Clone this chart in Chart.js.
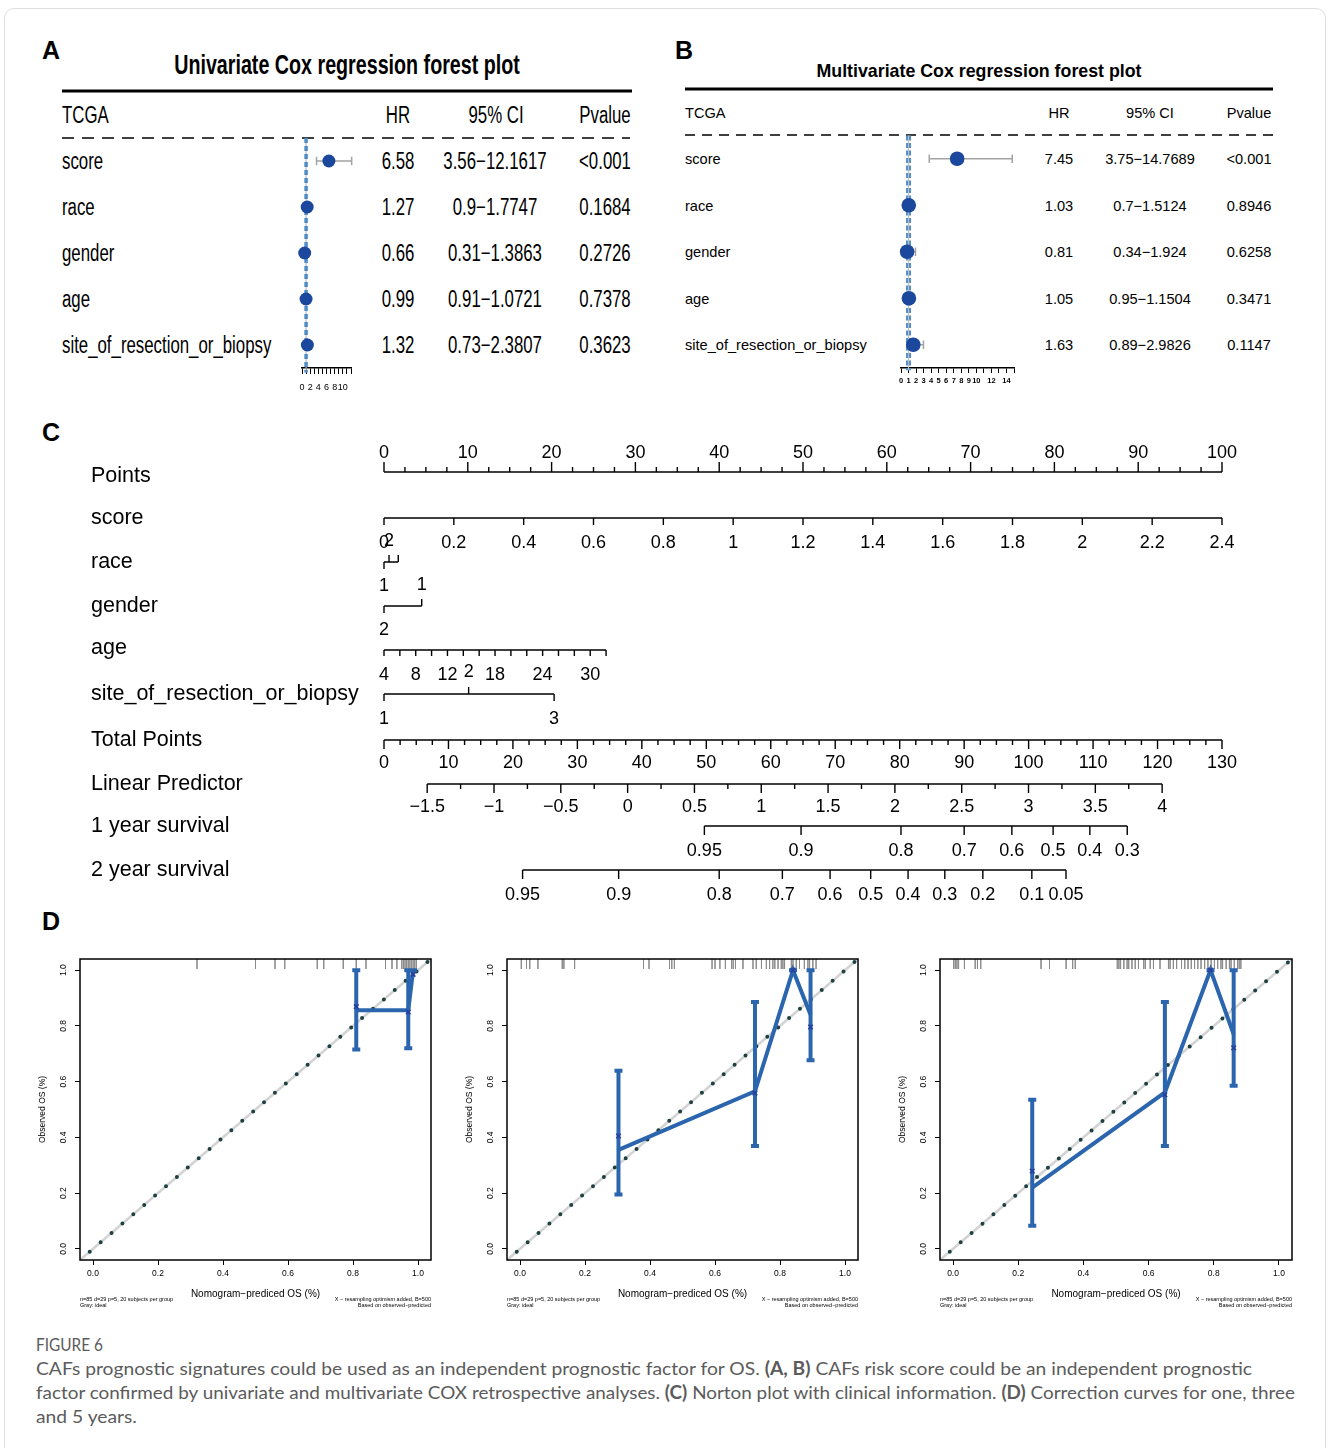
<!DOCTYPE html>
<html>
<head>
<meta charset="utf-8">
<script src="https://cdn.jsdelivr.net/npm/chart.js@4.4.1/dist/chart.umd.min.js"></script>
<style>
html,body{margin:0;padding:0;background:#fff;}
#page{position:relative;width:1328px;height:1448px;overflow:hidden;background:#fff;color:#000;font-family:"Liberation Sans",Arial,sans-serif;}
.abs{position:absolute;white-space:nowrap;line-height:1.15;}
.frame{position:absolute;left:4px;top:8px;width:1320px;height:1470px;border:1px solid #dedede;border-radius:10px;}
canvas{position:absolute;}
svg{position:absolute;left:0;top:0;}
.cap{position:absolute;left:36px;font-family:Lato,"Open Sans",sans-serif;color:#5b5b5b;font-size:18px;line-height:24px;white-space:nowrap;transform-origin:left top;}
.capline{display:block;width:max-content;transform-origin:left top;}
</style>
</head>
<body>
<div id="page">
<div class="frame"></div>
<svg width="1328" height="420">
 <line x1="62" y1="91" x2="632" y2="91" stroke="#000" stroke-width="3"/>
 <line x1="62" y1="138" x2="630" y2="138" stroke="#000" stroke-width="1.6" stroke-dasharray="12 8"/>
 <line x1="685" y1="89" x2="1273" y2="89" stroke="#000" stroke-width="3"/>
 <line x1="685" y1="135" x2="1273" y2="135" stroke="#000" stroke-width="1.6" stroke-dasharray="10 7"/>
</svg>
<canvas id="forestA" width="90" height="262" style="left:282px;top:128px"></canvas>
<canvas id="forestB" width="160" height="265" style="left:880px;top:125px"></canvas>
<canvas id="nomo" width="1180" height="480" style="left:80px;top:420px"></canvas>
<canvas id="cal1" width="410" height="362" style="left:30px;top:950px"></canvas>
<canvas id="cal2" width="410" height="362" style="left:457px;top:950px"></canvas>
<canvas id="cal3" width="411" height="362" style="left:890px;top:950px"></canvas>
<div class="cap" id="capHead" style="top:1332px;">FIGURE 6</div>
<div class="cap" style="top:1356px;">
<span class="capline" data-w="1216">CAFs prognostic signatures could be used as an independent prognostic factor for OS. <b>(A, B)</b> CAFs risk score could be an independent prognostic</span>
<span class="capline" data-w="1259">factor confirmed by univariate and multivariate COX retrospective analyses. <b>(C)</b> Norton plot with clinical information. <b>(D)</b> Correction curves for one, three</span>
<span class="capline" data-w="100">and 5 years.</span>
</div>
</div>
<script>
// ---------------- DATA ----------------
// Panel A: univariate Cox
const uniVars  = ['score','race','gender','age','site_of_resection_or_biopsy'];
const uniHR    = [6.58, 1.27, 0.66, 0.99, 1.32];
const uniLow   = [3.56, 0.9, 0.31, 0.91, 0.73];
const uniHigh  = [12.1617, 1.7747, 1.3863, 1.0721, 2.3807];
const uniP     = ['<0.001','0.1684','0.2726','0.7378','0.3623'];
const uniAxisLabels = [0,2,4,6,8,10];
// Panel B: multivariate Cox
const multiVars = ['score','race','gender','age','site_of_resection_or_biopsy'];
const multiHR   = [7.45, 1.03, 0.81, 1.05, 1.63];
const multiLow  = [3.75, 0.7, 0.34, 0.95, 0.89];
const multiHigh = [14.7689, 1.5124, 1.924, 1.1504, 2.9826];
const multiP    = ['<0.001','0.8946','0.6258','0.3471','0.1147'];
const multiAxisLabels = [0,1,2,3,4,5,6,7,8,9,10,12,14];
// Panel C: nomogram
const nomoRows = ['Points','score','race','gender','age','site_of_resection_or_biopsy','Total Points','Linear Predictor','1 year survival','2 year survival'];
const pointsValues = [0,10,20,30,40,50,60,70,80,90,100];
const scoreValues = [0,0.2,0.4,0.6,0.8,1,1.2,1.4,1.6,1.8,2,2.2,2.4];
const scoreLabels = ['0','0.2','0.4','0.6','0.8','1','1.2','1.4','1.6','1.8','2','2.2','2.4'];
const raceLevels = ['1','2',''];
const racePoints = [0, 0.6, 1.7];
const raceSide   = [1, -1, -1];
const genderLevels = ['2','1'];
const genderPoints = [0, 4.5];
const genderSide   = [1, -1];
const ageTickValues = [4,6,8,10,12,14,16,18,20,22,24,26,28,30,32];
const ageLabelValues = [4,8,12,18,24,30];
const siteLevels = ['1','2','3'];
const sitePoints = [0, 10.1, 20.3];
const siteSide   = [1, -1, 1];
const totalValues = [0,10,20,30,40,50,60,70,80,90,100,110,120,130];
const lpValues = [-1.5,-1,-0.5,0,0.5,1,1.5,2,2.5,3,3.5,4];
const lpLabels = ['\u22121.5','\u22121','\u22120.5','0','0.5','1','1.5','2','2.5','3','3.5','4'];
const surv1Labels = ['0.95','0.9','0.8','0.7','0.6','0.5','0.4','0.3'];
const surv1Total  = [49.7, 64.7, 80.2, 90.0, 97.4, 103.8, 109.5, 115.3];
const surv2Labels = ['0.95','0.9','0.8','0.7','0.6','0.5','0.4','0.3','0.2','0.1','0.05'];
const surv2Total  = [21.5, 36.4, 52.0, 61.8, 69.2, 75.5, 81.3, 87.0, 92.9, 100.5, 105.8];
// Panel D: calibration (1, 3, 5 years)
const cal1Pred = [0.81, 0.97, 0.985];
const cal1Obs  = [0.856, 0.856, 1.0];
const cal1Lo   = [0.715, 0.72, 1.0];
const cal1Hi   = [1.0, 1.0, 1.0];
const cal1Corr = [0.869, 0.85, 0.985];
const cal1Rug  = [0.32,0.50,0.56,0.59,0.69,0.71,0.77,0.81,0.84,0.90,0.92,0.935,0.95,0.955,0.96,0.965,0.97,0.975,0.98,0.985,0.99,0.995];
const cal2Pred = [0.303, 0.723, 0.84, 0.894];
const cal2Obs  = [0.355, 0.565, 1.0, 0.84];
const cal2Lo   = [0.195, 0.369, 1.0, 0.677];
const cal2Hi   = [0.639, 0.886, 1.0, 1.0];
const cal2Corr = [0.405, 0.559, 1.0, 0.796];
const cal2Rug  = [0.004,0.02,0.03,0.055,0.13,0.135,0.168,0.38,0.397,0.46,0.467,0.475,0.591,0.6,0.615,0.632,0.651,0.656,0.663,0.686,0.717,0.727,0.743,0.758,0.768,0.778,0.784,0.794,0.804,0.809,0.814,0.835,0.84,0.85,0.86,0.875,0.886,0.891,0.901,0.911];
const cal3Pred = [0.243, 0.65, 0.79, 0.861];
const cal3Obs  = [0.22, 0.561, 1.0, 0.77];
const cal3Lo   = [0.083, 0.369, 1.0, 0.585];
const cal3Hi   = [0.535, 0.886, 1.0, 1.0];
const cal3Corr = [0.279, 0.553, 1.0, 0.721];
const cal3Rug  = [0.002,0.007,0.012,0.017,0.035,0.068,0.075,0.085,0.27,0.296,0.347,0.367,0.375,0.504,0.509,0.514,0.524,0.534,0.539,0.549,0.559,0.569,0.585,0.59,0.605,0.615,0.635,0.661,0.666,0.676,0.686,0.701,0.711,0.721,0.731,0.741,0.751,0.761,0.772,0.782,0.792,0.802,0.812,0.822,0.827,0.838,0.848,0.853,0.863,0.873,0.878,0.883];

// ---------------- LAYOUT (pixel rows of nomogram axes) ----------------
const NOMO_ROW_Y = [472, 518, 562, 606, 650, 694, 740, 784, 826, 870];
const NOMO_LABEL_DY = [4, 0, 0, 0, -2, 0, 0, 0, 0, 0];

// ---------------- HELPERS ----------------
const FAM = '"Liberation Sans", Arial, sans-serif';
const page = document.getElementById('page');
function hasFont(name){
  const c=document.createElement('canvas').getContext('2d');
  c.font='40px monospace'; const w1=c.measureText('site_of_resection_or_biopsy').width;
  c.font='40px "'+name+'", monospace'; const w2=c.measureText('site_of_resection_or_biopsy').width;
  return Math.abs(w1-w2)>1;
}
const HAS_NARROW = hasFont('Liberation Sans Narrow');
function txt(x,y,text,o){
  o=o||{};
  const d=document.createElement('div'); d.className='abs';
  d.textContent=text;
  d.style.left=x+'px'; d.style.top=y+'px';
  d.style.fontSize=(o.size||14)+'px';
  if(o.bold) d.style.fontWeight='bold';
  let fam=FAM, sx=1, sy=o.sy||1;
  if(o.narrow){ if(HAS_NARROW) fam='"Liberation Sans Narrow", "Liberation Sans", sans-serif'; else sx=0.82; }
  d.style.fontFamily=fam;
  const a=o.align||'l';
  const tx=a==='c'?'-50%':a==='r'?'-100%':'0';
  d.style.transformOrigin=a==='c'?'center center':a==='r'?'right center':'left center';
  d.style.transform='translate('+tx+',-50%) scale('+sx+','+sy+')';
  page.appendChild(d);
}
const ciText=(l,h)=>l+'\u2212'+h;

// ---------------- TEXT: panels A and B ----------------
txt(42,50,'A',{size:25,bold:true});
txt(675,50,'B',{size:25,bold:true});
txt(42,432,'C',{size:25,bold:true});
txt(42,921,'D',{size:25,bold:true});

const SY_A = 1.13;
txt(347,65,'Univariate Cox regression forest plot',{size:24,bold:true,narrow:true,align:'c',sy:SY_A});
txt(62,115,'TCGA',{size:20.5,narrow:true,sy:SY_A});
txt(398,115,'HR',{size:20.5,narrow:true,align:'c',sy:SY_A});
txt(496,115,'95% CI',{size:20.5,narrow:true,align:'c',sy:SY_A});
txt(605,115,'Pvalue',{size:20.5,narrow:true,align:'c',sy:SY_A});
uniVars.forEach((v,i)=>{
  const y=161+46*i;
  txt(62,y,v,{size:20.5,narrow:true,sy:SY_A});
  txt(398,y,String(uniHR[i]),{size:20.5,narrow:true,align:'c',sy:SY_A});
  txt(495,y,ciText(uniLow[i],uniHigh[i]),{size:20.5,narrow:true,align:'c',sy:SY_A});
  txt(605,y,uniP[i],{size:20.5,narrow:true,align:'c',sy:SY_A});
});

txt(979,71,'Multivariate Cox regression forest plot',{size:17.8,bold:true,align:'c',sy:1.08});
txt(685,113,'TCGA',{size:14.6});
txt(1059,113,'HR',{size:14.6,align:'c'});
txt(1150,113,'95% CI',{size:14.6,align:'c'});
txt(1249,113,'Pvalue',{size:14.6,align:'c'});
multiVars.forEach((v,i)=>{
  const y=159+46.5*i;
  txt(685,y,v,{size:14.6});
  txt(1059,y,String(multiHR[i]),{size:14.6,align:'c'});
  txt(1150,y,ciText(multiLow[i],multiHigh[i]),{size:14.6,align:'c'});
  txt(1249,y,multiP[i],{size:14.6,align:'c'});
});

// caption width fitting (per line)
(function(){
  const lines=document.querySelectorAll('.capline');
  let f0=1;
  lines.forEach((el,i)=>{
    const w=el.getBoundingClientRect().width;
    let f=(+el.dataset.w)/w;
    if(i===0) f0=f;
    if(i===lines.length-1) f=f0;
    el.style.transform='scaleX('+f+')';
  });
  const h=document.getElementById('capHead');
  const wh=h.getBoundingClientRect().width;
  h.style.transform='scaleX('+(67/wh)+')';
})();

// ---------------- FOREST CHARTS ----------------
function makeForest(id, hr, lo, hi, cfg){
  const dots=hr.map((v,i)=>({x:v,y:i+1}));
  const ci=[];
  hr.forEach((v,i)=>{
    const r=i+1,c=cfg.capH;
    ci.push({x:lo[i],y:r},{x:hi[i],y:r},{x:hi[i],y:null},
            {x:lo[i],y:r-c},{x:lo[i],y:r+c},{x:lo[i],y:null},
            {x:hi[i],y:r-c},{x:hi[i],y:r+c},{x:hi[i],y:null});
  });
  const ref=[{x:1,y:0.5},{x:1,y:cfg.refEnd}];
  return new Chart(document.getElementById(id),{
    type:'line',
    data:{datasets:[
      {data:dots,showLine:false,pointRadius:cfg.dotR,pointBackgroundColor:'#1b479d',pointBorderWidth:0,order:0,clip:false},
      {data:ci,borderColor:'#a3a3a3',borderWidth:1.5,pointRadius:0,order:1,clip:false,spanGaps:false},
      {data:ref,borderColor:'#bdbdbd',borderWidth:1.2,pointRadius:0,order:cfg.grayOrder,clip:false},
      {data:ref,borderColor:'#4f8dc9',borderWidth:cfg.refW,borderDash:cfg.dash,pointRadius:0,order:2,clip:false}
    ]},
    options:{
      responsive:false,animation:false,events:[],
      layout:{padding:cfg.pad},
      plugins:{legend:{display:false},tooltip:{enabled:false}},
      scales:{
        x:{type:'linear',min:0,max:cfg.xmax,position:'bottom',
           afterFit:s=>{s.height=22;},
           border:{display:true,color:'#000',width:1.4},
           grid:{display:true,drawOnChartArea:false,drawTicks:true,tickLength:cfg.tickLen,color:'#000',lineWidth:1},
           ticks:{stepSize:1,autoSkip:false,maxRotation:0,minRotation:0,padding:cfg.tickPad,color:'#000',
                  font:{size:cfg.tickFont,family:FAM,weight:cfg.tickWeight},
                  callback:v=>cfg.labels.includes(v)?String(v):''}},
        y:{type:'linear',min:0.5,max:5.5,reverse:true,display:false}
      }
    }
  });
}
makeForest('forestA',uniHR,uniLow,uniHigh,{xmax:12,labels:uniAxisLabels,pad:{left:20,right:21,top:10,bottom:0},
  capH:0.09,dotR:6.5,refW:3.5,dash:[5,3],grayOrder:3,refEnd:5.6,tickLen:6,tickPad:8,tickFont:9,tickWeight:'normal'});
makeForest('forestB',multiHR,multiLow,multiHigh,{xmax:15,labels:multiAxisLabels,pad:{left:21,right:26,top:10.5,bottom:0},
  capH:0.09,dotR:7.3,refW:5,dash:[5,2.5],grayOrder:1.5,refEnd:5.55,tickLen:5,tickPad:3.5,tickFont:7.5,tickWeight:'bold'});

// ---------------- NOMOGRAM ----------------
const scoreToPts=s=>s/scoreValues[scoreValues.length-1]*100;
const ageToPts=a=>(a-4)*(26.5/28);
const totalToPts=t=>t*100/130;
const lpToTotal=lp=>6.7+(lp+1.5)*20.73;
const nomoSets=[], nomoText=[];
function addAxis(r,x0,x1,ticks,labels){
  const row=NOMO_ROW_Y[r];
  const d=[{x:x0,y:row},{x:x1,y:row},{x:x1,y:null}];
  ticks.forEach(t=>d.push({x:t.x,y:row},{x:t.x,y:row+t.dir*t.len},{x:t.x,y:null}));
  nomoSets.push({data:d,borderColor:'#000',borderWidth:1.4,pointRadius:0,clip:false,spanGaps:false});
  labels.forEach(l=>nomoText.push({x:l.x,row:row,text:l.text,dy:l.dy}));
}
// Points
(function(){
  const t=[];
  for(let v=0;v<=100;v+=2.5) t.push({x:v,dir:-1,len:(v%10===0)?10:5});
  addAxis(0,0,100,t,pointsValues.map(v=>({x:v,text:String(v),dy:-21})));
})();
// score
addAxis(1,0,100,scoreValues.map(v=>({x:scoreToPts(v),dir:1,len:7})),
  scoreValues.map((v,i)=>({x:scoreToPts(v),text:scoreLabels[i],dy:23})));
// race
addAxis(2,racePoints[0],racePoints[racePoints.length-1],racePoints.map((p,i)=>({x:p,dir:raceSide[i],len:7})),
  raceLevels.map((s,i)=>({x:racePoints[i],text:s,dy:raceSide[i]>0?22:-23})));
// gender
addAxis(3,genderPoints[0],genderPoints[genderPoints.length-1],genderPoints.map((p,i)=>({x:p,dir:genderSide[i],len:7})),
  genderLevels.map((s,i)=>({x:genderPoints[i],text:s,dy:genderSide[i]>0?22:-23})));
// age
addAxis(4,ageToPts(ageTickValues[0]),ageToPts(ageTickValues[ageTickValues.length-1]),
  ageTickValues.map(a=>({x:ageToPts(a),dir:1,len:6})),
  ageLabelValues.map(a=>({x:ageToPts(a),text:String(a),dy:23})));
// site
addAxis(5,sitePoints[0],sitePoints[sitePoints.length-1],sitePoints.map((p,i)=>({x:p,dir:siteSide[i],len:7})),
  siteLevels.map((s,i)=>({x:sitePoints[i],text:s,dy:siteSide[i]>0?23:-24})));
// Total Points
(function(){
  const t=[];
  for(let v=0;v<=130;v+=2.5) t.push({x:totalToPts(v),dir:1,len:(v%10===0)?9:5});
  addAxis(6,totalToPts(0),totalToPts(130),t,totalValues.map(v=>({x:totalToPts(v),text:String(v),dy:21})));
})();
// Linear predictor
(function(){
  const t=[];
  for(let v=-1.5;v<=4.001;v+=0.25) t.push({x:totalToPts(lpToTotal(v)),dir:1,len:(Math.abs(v*2-Math.round(v*2))<1e-6)?9:5});
  addAxis(7,totalToPts(lpToTotal(-1.5)),totalToPts(lpToTotal(4)),t,
    lpValues.map((v,i)=>({x:totalToPts(lpToTotal(v)),text:lpLabels[i],dy:21})));
})();
// survival
addAxis(8,totalToPts(surv1Total[0]),totalToPts(surv1Total[surv1Total.length-1]),
  surv1Total.map(t=>({x:totalToPts(t),dir:1,len:9})),
  surv1Labels.map((s,i)=>({x:totalToPts(surv1Total[i]),text:s,dy:23})));
addAxis(9,totalToPts(surv2Total[0]),totalToPts(surv2Total[surv2Total.length-1]),
  surv2Total.map(t=>({x:totalToPts(t),dir:1,len:9})),
  surv2Labels.map((s,i)=>({x:totalToPts(surv2Total[i]),text:s,dy:23})));

const nomoLabelPlugin={
  id:'nomoLabels',
  afterDatasetsDraw(chart){
    const {ctx,scales:{x,y}}=chart;
    ctx.save();
    ctx.fillStyle='#000';
    ctx.textBaseline='middle';
    ctx.textAlign='center';
    ctx.font='18px '+FAM;
    nomoText.forEach(it=>{ if(it.text) ctx.fillText(it.text,x.getPixelForValue(it.x),y.getPixelForValue(it.row)+it.dy+2); });
    ctx.textAlign='left';
    ctx.font='21.5px '+FAM;
    nomoRows.forEach((r,i)=>{ ctx.fillText(r,11,y.getPixelForValue(NOMO_ROW_Y[i])+NOMO_LABEL_DY[i]); });
    ctx.restore();
  }
};
new Chart(document.getElementById('nomo'),{
  type:'line',
  data:{datasets:nomoSets},
  options:{
    responsive:false,animation:false,events:[],
    layout:{padding:{left:304,right:38,top:52,bottom:30}},
    plugins:{legend:{display:false},tooltip:{enabled:false}},
    scales:{
      x:{type:'linear',min:0,max:100,display:false},
      y:{type:'linear',min:NOMO_ROW_Y[0],max:NOMO_ROW_Y[NOMO_ROW_Y.length-1],reverse:true,display:false}
    }
  },
  plugins:[nomoLabelPlugin]
});

// ---------------- CALIBRATION ----------------
const calBoxPlugin={
  id:'calBox',
  afterDraw(chart){
    const {ctx,chartArea:a,scales:{y}}=chart;
    ctx.save();
    ctx.strokeStyle='#000'; ctx.lineWidth=1.5;
    ctx.strokeRect(a.left,a.top,a.right-a.left,a.bottom-a.top);
    ctx.fillStyle='#000'; ctx.font='8.5px '+FAM; ctx.textAlign='center'; ctx.textBaseline='middle';
    y.ticks.forEach(t=>{
      const py=y.getPixelForValue(t.value);
      ctx.save(); ctx.translate(a.left-16,py); ctx.rotate(-Math.PI/2);
      ctx.fillText(Number(t.value).toFixed(1),0,0); ctx.restore();
    });
    ctx.font='5.5px '+FAM; ctx.textBaseline='middle';
    ctx.textAlign='left';
    ctx.fillText('n=85 d=29 p=5, 20 subjects per group',a.left,a.bottom+39);
    ctx.fillText('Gray: ideal',a.left,a.bottom+45);
    ctx.textAlign='right';
    ctx.fillText('X \u2212 resampling optimism added, B=500',a.right,a.bottom+39);
    ctx.fillText('Based on observed\u2212predicted',a.right,a.bottom+45);
    ctx.restore();
  }
};
function makeCal(id,pred,obs,lo,hi,corr,rug){
  const capHalf=4/325;
  const line=pred.map((p,i)=>({x:p,y:obs[i]}));
  const eb=[];
  pred.forEach((p,i)=>{
    eb.push({x:p,y:lo[i]},{x:p,y:hi[i]},{x:p,y:null},
            {x:p-capHalf,y:lo[i]},{x:p+capHalf,y:lo[i]},{x:p,y:null},
            {x:p-capHalf,y:hi[i]},{x:p+capHalf,y:hi[i]},{x:p,y:null});
  });
  const marks=pred.map((p,i)=>({x:p,y:corr[i]}));
  const rugD=[];
  rug.forEach(r=>rugD.push({x:r,y:1.04},{x:r,y:1.04-10/279},{x:r,y:null}));
  return new Chart(document.getElementById(id),{
    type:'line',
    data:{datasets:[
      {data:marks,showLine:false,pointStyle:'crossRot',pointRadius:3.2,pointBorderColor:'#26409e',pointBorderWidth:1.6,order:0,clip:false},
      {data:line,borderColor:'#2a65ad',borderWidth:4,pointRadius:0,order:1,borderJoinStyle:'miter',clip:false},
      {data:eb,borderColor:'#2a65ad',borderWidth:4,pointRadius:0,order:2,spanGaps:false,clip:false},
      {data:[{x:-0.01,y:-0.01},{x:1.03,y:1.03}],borderColor:'#1f4040',borderWidth:4,borderDash:[0,14.35],borderCapStyle:'round',pointRadius:0,order:3,clip:false},
      {data:[{x:-0.04,y:-0.04},{x:1.04,y:1.04}],borderColor:'#d3d3d3',borderWidth:2.5,pointRadius:0,order:4},
      {data:rugD,borderColor:'#8a8a8a',borderWidth:0.8,pointRadius:0,order:5,spanGaps:false,clip:false}
    ]},
    options:{
      responsive:false,animation:false,events:[],
      layout:{padding:{left:0,right:9,top:9,bottom:12}},
      plugins:{legend:{display:false},tooltip:{enabled:false}},
      scales:{
        x:{type:'linear',min:-0.04,max:1.04,position:'bottom',
           afterFit:s=>{s.height=40;},
           border:{display:false},
           grid:{display:true,drawOnChartArea:false,drawTicks:true,tickLength:5,color:'#000',lineWidth:1},
           ticks:{stepSize:0.2,includeBounds:false,autoSkip:false,maxRotation:0,minRotation:0,padding:4,color:'#000',
                  font:{size:8.5,family:FAM},callback:v=>Number(v).toFixed(1)},
           title:{display:true,text:'Nomogram\u2212prediced OS (%)',color:'#000',font:{size:10,family:FAM},padding:{top:0,bottom:0}}},
        y:{type:'linear',min:-0.04,max:1.04,position:'left',
           afterFit:s=>{s.width=50;},
           border:{display:false},
           grid:{display:true,drawOnChartArea:false,drawTicks:true,tickLength:5,color:'#000',lineWidth:1},
           ticks:{display:false,stepSize:0.2,includeBounds:false},
           title:{display:true,text:'Observed OS (%)',color:'#000',font:{size:8.5,family:FAM},padding:{top:7.6,bottom:0}}}
      }
    },
    plugins:[calBoxPlugin]
  });
}
makeCal('cal1',cal1Pred,cal1Obs,cal1Lo,cal1Hi,cal1Corr,cal1Rug);
makeCal('cal2',cal2Pred,cal2Obs,cal2Lo,cal2Hi,cal2Corr,cal2Rug);
makeCal('cal3',cal3Pred,cal3Obs,cal3Lo,cal3Hi,cal3Corr,cal3Rug);
</script>
</body>
</html>
